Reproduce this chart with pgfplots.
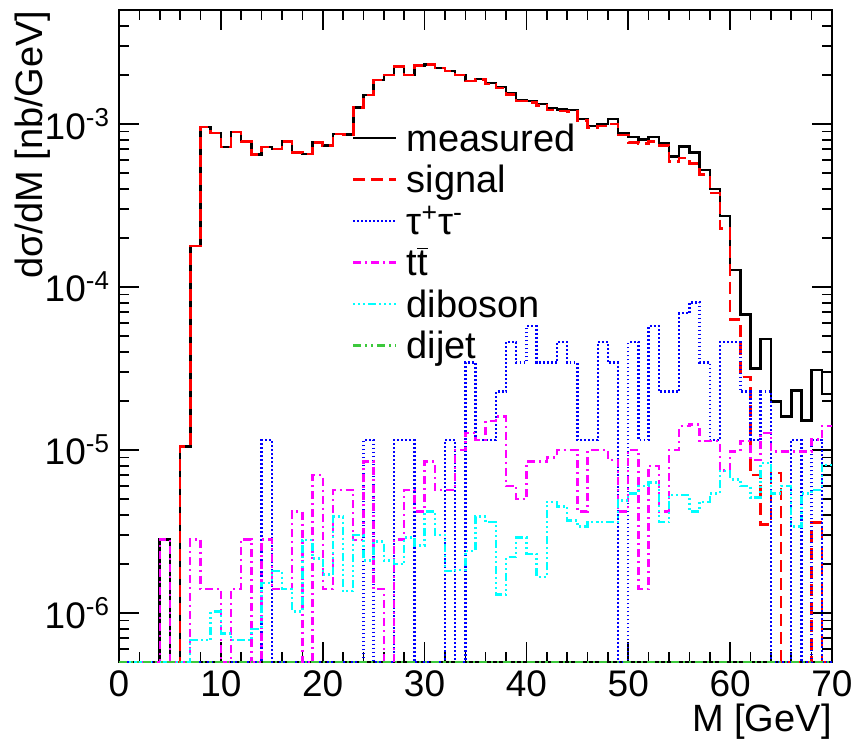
\documentclass[border=0pt]{standalone}
\usepackage{fontspec}
\setmainfont{Liberation Sans}
\usepackage{pgfplots}
\usepackage{pgfplotstable}
\pgfplotsset{compat=1.18}
\definecolor{rootgreen}{RGB}{60,200,60}
\definecolor{rootmag}{RGB}{255,0,255}
\definecolor{rootcyan}{RGB}{0,255,255}
\definecolor{rootblue}{RGB}{0,0,255}
\definecolor{rootred}{RGB}{255,0,0}
\pgfplotstableread{
x meas sig tau tt dib dij
0 5e-7 5e-7 5e-7 5e-7 5e-7 5e-7
1 5e-7 5e-7 5e-7 5e-7 5e-7 5e-7
2 5e-7 5e-7 5e-7 5e-7 5e-7 5e-7
3 5e-7 5e-7 5e-7 5e-7 5e-7 5e-7
4 2.83e-6 5e-7 5e-7 2.83e-6 5e-7 5e-7
5 5e-7 5e-7 5e-7 5e-7 5e-7 5e-7
6 1.05e-5 1.05e-5 5e-7 5e-7 5e-7 5e-7
7 1.78e-4 1.78e-4 5e-7 2.83e-6 6.8e-7 5e-7
8 9.6e-4 9.6e-4 5e-7 1.4e-6 6.8e-7 5e-7
9 8.8e-4 8.8e-4 5e-7 1.4e-6 1.02e-6 5e-7
10 7.2e-4 7.2e-4 5e-7 5e-7 7.5e-7 5e-7
11 8.9e-4 8.9e-4 5e-7 1.4e-6 6.8e-7 5e-7
12 7.8e-4 7.8e-4 5e-7 2.83e-6 6.8e-7 5e-7
13 6.5e-4 6.5e-4 5e-7 5e-7 8.0e-7 5e-7
14 7.2e-4 7.2e-4 1.15e-5 2.83e-6 1.53e-6 5e-7
15 7.0e-4 7.0e-4 5e-7 1.4e-6 1.81e-6 5e-7
16 7.8e-4 7.8e-4 5e-7 1.4e-6 1.4e-6 5e-7
17 6.7e-4 6.7e-4 5e-7 4.2e-6 1.02e-6 5e-7
18 6.55e-4 6.55e-4 5e-7 5e-7 2.8e-6 5e-7
19 7.7e-4 7.7e-4 5e-7 7.0e-6 2.16e-6 5e-7
20 7.4e-4 7.4e-4 5e-7 1.4e-6 1.72e-6 5e-7
21 8.7e-4 8.7e-4 5e-7 5.7e-6 3.9e-6 5e-7
22 8.6e-4 8.6e-4 5e-7 5.7e-6 1.36e-6 5e-7
23 1.26e-3 1.26e-3 5e-7 2.8e-6 3.0e-6 5e-7
24 1.51e-3 1.51e-3 1.15e-5 8.5e-6 2.1e-6 5e-7
25 1.86e-3 1.86e-3 5e-7 1.4e-6 2.75e-6 5e-7
26 2.0e-3 2.0e-3 5e-7 5e-7 2.1e-6 5e-7
27 2.25e-3 2.25e-3 1.15e-5 2.83e-6 2.0e-6 5e-7
28 2.0e-3 2.0e-3 1.15e-5 5.7e-6 2.9e-6 5e-7
29 2.28e-3 2.28e-3 5e-7 4.2e-6 2.6e-6 5e-7
30 2.32e-3 2.32e-3 5e-7 8.5e-6 4.2e-6 5e-7
31 2.2e-3 2.2e-3 5e-7 5.7e-6 3.0e-6 5e-7
32 2.11e-3 2.11e-3 1.15e-5 5.7e-6 1.81e-6 5e-7
33 2.0e-3 2.0e-3 5e-7 1.0e-5 1.84e-6 5e-7
34 1.84e-3 1.84e-3 3.44e-5 1.27e-5 2.4e-6 5e-7
35 1.89e-3 1.87e-3 1.15e-5 1.15e-5 3.9e-6 5e-7
36 1.78e-3 1.76e-3 1.15e-5 1.5e-5 3.6e-6 5e-7
37 1.69e-3 1.66e-3 2.28e-5 1.6e-5 1.3e-6 5e-7
38 1.54e-3 1.52e-3 4.6e-5 6e-6 2.2e-6 5e-7
39 1.40e-3 1.38e-3 3.44e-5 5e-6 2.9e-6 5e-7
40 1.38e-3 1.35e-3 5.75e-5 8.5e-6 2.3e-6 5e-7
41 1.33e-3 1.30e-3 3.44e-5 8.5e-6 1.66e-6 5e-7
42 1.25e-3 1.22e-3 3.44e-5 9e-6 4.8e-6 5e-7
43 1.23e-3 1.20e-3 4.6e-5 1e-5 4.5e-6 5e-7
44 1.22e-3 1.19e-3 3.44e-5 1e-5 3.7e-6 5e-7
45 1.07e-3 1.05e-3 1.15e-5 4.2e-6 3.4e-6 5e-7
46 9.7e-4 9.5e-4 1.15e-5 1e-5 3.6e-6 5e-7
47 1.0e-3 9.7e-4 4.6e-5 1e-5 3.6e-6 5e-7
48 1.07e-3 1.0e-3 3.44e-5 8.7e-6 3.6e-6 5e-7
49 8.8e-4 8.56e-4 5e-7 4.2e-6 4.9e-6 5e-7
50 8.3e-4 7.7e-4 4.6e-5 1e-5 5.4e-6 5e-7
51 8.05e-4 7.6e-4 1.15e-5 1.4e-6 6.0e-6 5e-7
52 8.3e-4 7.8e-4 5.75e-5 8e-6 6.3e-6 5e-7
53 7.6e-4 7.4e-4 2.28e-5 4.2e-6 3.6e-6 5e-7
54 6.3e-4 5.9e-4 2.28e-5 1e-5 5.3e-6 5e-7
55 7.26e-4 6.2e-4 6.9e-5 1.4e-5 5.3e-6 5e-7
56 6.7e-4 5.7e-4 8.05e-5 1.43e-5 4.2e-6 5e-7
57 5.2e-4 4.9e-4 3.44e-5 1.13e-5 4.8e-6 5e-7
58 4.0e-4 3.76e-4 1.15e-5 1.13e-5 5.4e-6 5e-7
59 2.73e-4 2.29e-4 4.6e-5 7.5e-6 7.4e-6 5e-7
60 1.27e-4 6.3e-5 4.6e-5 9.8e-6 6.6e-6 5e-7
61 6.8e-5 2.8e-5 2.28e-5 1.13e-5 6.0e-6 5e-7
62 3.17e-5 7.0e-6 1.15e-5 8.7e-6 5.1e-6 5e-7
63 4.8e-5 3.5e-6 2.28e-5 1.27e-5 8.3e-6 5e-7
64 1.98e-5 7.2e-6 5e-7 9.8e-6 5.4e-6 5e-7
65 1.6e-5 5e-7 5e-7 9.8e-6 6.0e-6 5e-7
66 2.31e-5 5e-7 1.15e-5 9.8e-6 3.4e-6 5e-7
67 1.52e-5 5e-7 5e-7 9.8e-6 5.4e-6 5e-7
68 3.1e-5 3.6e-6 1.15e-5 1.16e-5 5.7e-6 5e-7
69 2.2e-5 5e-7 5e-7 1.4e-5 8.1e-6 5e-7
70 2.2e-5 5e-7 5e-7 1.4e-5 8.1e-6 5e-7
}\hist
\begin{document}
\begin{tikzpicture}
\useasboundingbox (-59.5pt,-43.5pt) rectangle (369pt,331pt);
\begin{axis}[
  at={(0,0)}, anchor=south west,
  width=356.5pt, height=326pt, scale only axis,
  ymode=log, ymin=5e-7, ymax=5e-3, xmin=0, xmax=70,
  axis line style={line width=0.8pt},
  every tick/.style={line width=0.8pt, black},
  major tick length=10pt, minor tick length=5pt,
  tick align=inside,
  xtick={0,10,...,70}, minor x tick num=4,
  ytick={1e-6,1e-5,1e-4,1e-3},
  yticklabels={10\textsuperscript{-6},10\textsuperscript{-5},10\textsuperscript{-4},10\textsuperscript{-3}},
  minor ytick={6e-7,7e-7,8e-7,9e-7,2e-6,3e-6,4e-6,5e-6,6e-6,7e-6,8e-6,9e-6,2e-5,3e-5,4e-5,5e-5,6e-5,7e-5,8e-5,9e-5,2e-4,3e-4,4e-4,5e-4,6e-4,7e-4,8e-4,9e-4,2e-3,3e-3,4e-3},
  /pgf/number format/assume math mode=true,
  ticklabel style={font=\fontsize{18.5}{22}\selectfont},
  xticklabel style={yshift=-1pt},
  yticklabel style={xshift=-1pt},
  xlabel={M [GeV]},
  ylabel={dσ/dM [nb/GeV]},
  label style={font=\fontsize{19}{22}\selectfont},
  xlabel style={at={(axis description cs:1,0)}, anchor=north east, inner sep=0pt, yshift=-21pt},
  ylabel style={at={(axis description cs:-0.095,1)}, anchor=south east, inner sep=0pt},
  legend cell align=left,
  legend style={draw=none, fill=none, at={(0.318,0.833)}, anchor=north west,
    font=\fontsize{19}{22}\selectfont,
    nodes={inner sep=0pt, text height=14pt, text depth=6.75pt},
    row sep=0pt, column sep=4.5pt},
  legend image code/.code={\draw[#1] (0pt,0.3em) -- (21.5pt,0.3em);},
  clip=true,
]
\addplot[const plot mark left, black, line width=1.25pt] table[x=x, y=meas] {\hist};
\addlegendentry{measured}
\addplot[const plot mark left, rootred, line width=1.25pt, dash pattern=on 6pt off 3pt] table[x=x, y=sig] {\hist};
\addlegendentry{signal}
\addplot[const plot mark left, rootblue, line width=1.2pt, dash pattern=on 0.9pt off 1.1pt] table[x=x, y=tau] {\hist};
\addlegendentry{τ\textsuperscript{+}τ\textsuperscript{-}}
\addplot[const plot mark left, rootmag, line width=1.2pt, dash pattern=on 4pt off 2pt on 1pt off 2pt] table[x=x, y=tt] {\hist};
\addlegendentry{t$\overline{\mbox{t}}$}
\addplot[const plot mark left, rootcyan, line width=1.2pt, dash pattern=on 1pt off 1.5pt on 1pt off 1.5pt on 1pt off 1.5pt on 4pt off 1.5pt] table[x=x, y=dib] {\hist};
\addlegendentry{diboson}
\addplot[const plot mark left, rootgreen, line width=1.2pt, dash pattern=on 4pt off 2pt on 1pt off 2pt on 1pt off 2pt] table[x=x, y=dij] {\hist};
\addlegendentry{dijet}
\end{axis}
\end{tikzpicture}
\end{document}
